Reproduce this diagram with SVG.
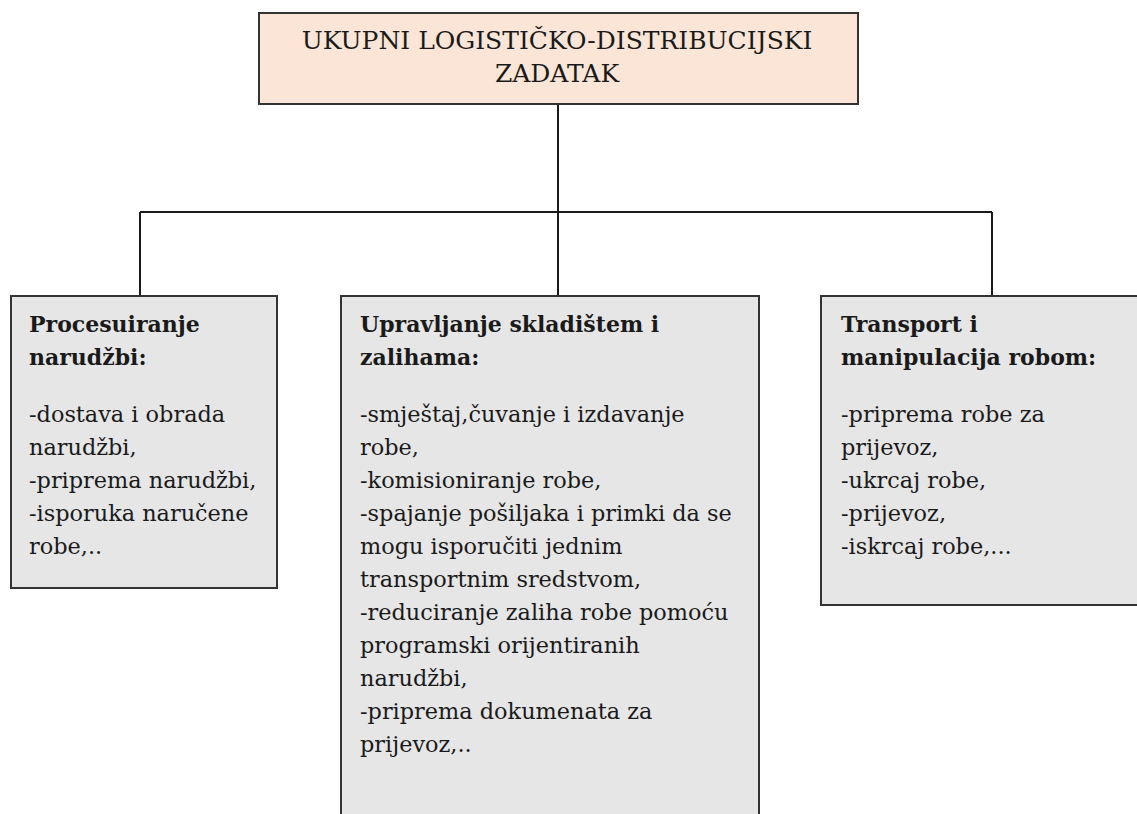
<svg xmlns="http://www.w3.org/2000/svg" width="1137" height="814" viewBox="0 0 1137 814">
<style>
.top{fill:#fbe5d6;stroke:#333;stroke-width:2}
.box{fill:#e6e6e6;stroke:#333;stroke-width:2}
.conn{fill:none;stroke:#1a1a1a;stroke-width:2}
.t{font-family:'DejaVu Serif','Liberation Serif',serif;font-size:22.4px;fill:#1a1a1a}
.h{font-weight:bold;font-size:22px}
.c{text-anchor:middle;font-size:25px}
</style>
<rect width="1137" height="814" fill="#ffffff"/>
<g id="connectors">
<path class="conn" d="M558,104 V212 M140,212 H992 M140,212 V296 M558,212 V296 M992,212 V296"/>
</g>
<g id="node-top" class="t">
<rect class="top" x="259" y="13" width="599" height="91"/>
<text class="c" x="557" y="49">UKUPNI LOGISTIČKO-DISTRIBUCIJSKI</text>
<text class="c" x="557" y="82">ZADATAK</text>
</g>
<g id="node-left" class="t">
<rect class="box" x="11" y="296" width="266" height="292"/>
<text class="h" x="29" y="332">Procesuiranje</text>
<text class="h" x="29" y="365">narudžbi:</text>
<text x="29" y="422">-dostava i obrada</text>
<text x="29" y="455">narudžbi,</text>
<text x="29" y="488">-priprema narudžbi,</text>
<text x="29" y="521">-isporuka naručene</text>
<text x="29" y="554">robe,..</text>
</g>
<g id="node-middle" class="t">
<rect class="box" x="341" y="296" width="418" height="540"/>
<text class="h" x="360" y="332">Upravljanje skladištem i</text>
<text class="h" x="360" y="365">zalihama:</text>
<text x="360" y="422">-smještaj,čuvanje i izdavanje</text>
<text x="360" y="455">robe,</text>
<text x="360" y="488">-komisioniranje robe,</text>
<text x="360" y="521">-spajanje pošiljaka i primki da se</text>
<text x="360" y="554">mogu isporučiti jednim</text>
<text x="360" y="587">transportnim sredstvom,</text>
<text x="360" y="620">-reduciranje zaliha robe pomoću</text>
<text x="360" y="653">programski orijentiranih</text>
<text x="360" y="686">narudžbi,</text>
<text x="360" y="719">-priprema dokumenata za</text>
<text x="360" y="752">prijevoz,..</text>
</g>
<g id="node-right" class="t">
<rect class="box" x="821" y="296" width="330" height="309"/>
<text class="h" x="841" y="332">Transport i</text>
<text class="h" x="841" y="365">manipulacija robom:</text>
<text x="841" y="422">-priprema robe za</text>
<text x="841" y="455">prijevoz,</text>
<text x="841" y="488">-ukrcaj robe,</text>
<text x="841" y="521">-prijevoz,</text>
<text x="841" y="554">-iskrcaj robe,...</text>
</g>
</svg>
